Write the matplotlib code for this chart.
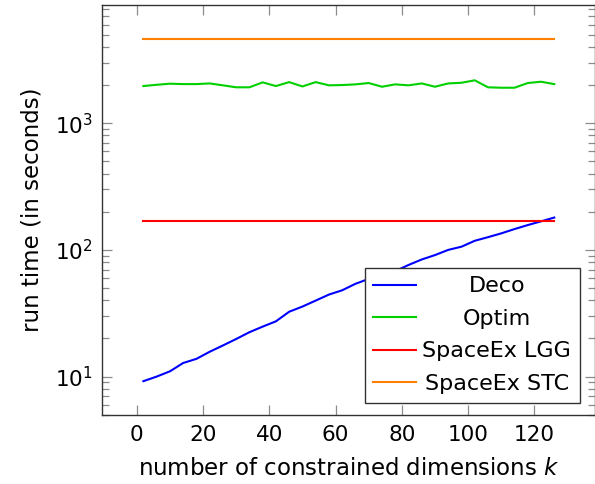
import matplotlib

matplotlib.use("Agg")
import matplotlib.pyplot as plt

plt.rcParams["font.family"] = ["DejaVu Sans"]
plt.rcParams["mathtext.fontset"] = "dejavusans"

# number of constrained dimensions
k = [2, 6, 10, 14, 18, 22, 26, 30, 34, 38, 42, 46, 50, 54, 58, 62,
     66, 70, 74, 78, 82, 86, 90, 94, 98, 102, 106, 110, 114, 118, 122, 126]

# run times in seconds
deco = [9.2, 10.0, 11.0, 12.8, 13.8, 15.7, 17.6, 19.8, 22.4, 24.8, 27.3, 32.5,
        35.7, 39.8, 44.4, 48.0, 54.0, 59.0, 63.0, 68.0, 76.0, 84.0, 91.0, 100.0,
        106.0, 118.0, 126.0, 135.0, 146.0, 157.0, 168.0, 180.0]
optim = [1964, 2010, 2050, 2035, 2035, 2060, 1990, 1920, 1920, 2100, 1964, 2110,
         1950, 2110, 1990, 2000, 2025, 2075, 1940, 2025, 1990, 2060, 1940, 2060,
         2085, 2180, 1920, 1905, 1905, 2075, 2125, 2035]
spaceex_lgg = [168] * len(k)
spaceex_stc = [4600] * len(k)

labels = ["Deco", "Optim", "SpaceEx LGG", "SpaceEx STC"]
colors = ["#0000ff", "#00d000", "#ff0000", "#ff8000"]

fig = plt.figure(figsize=(5.95, 4.84), dpi=100)
ax = fig.add_axes([0.1719, 0.1426, 0.8287, 0.8471])

for ys, lab, col in zip([deco, optim, spaceex_lgg, spaceex_stc], labels, colors):
    ax.plot(k, ys, color=col, lw=1.5, label=lab)

ax.set_yscale("log")
ax.set_xlim(-10.4, 138.4)
ax.set_ylim(10 ** 0.697, 10 ** 3.933)
ax.set_xticks([0, 20, 40, 60, 80, 100, 120])

ax.tick_params(which="both", direction="in", top=True, right=True,
               color="#8c8c8c", labelsize=15.5)
ax.tick_params(which="major", length=7.2, width=0.9, pad=7)
ax.tick_params(which="minor", length=5, width=0.9)
for s in ax.spines.values():
    s.set_color("#333333")
    s.set_linewidth(1.0)

ax.set_xlabel("number of constrained dimensions $k$", fontsize=16.5, labelpad=9)
ax.set_ylabel("run time (in seconds)", fontsize=16.5, labelpad=8)

leg = ax.legend(loc="lower right", bbox_to_anchor=(0.969, 0.030), borderaxespad=0,
                fontsize=16, handlelength=1.9, handletextpad=0.3,
                labelspacing=0.56, borderpad=0.4, fancybox=False,
                edgecolor="#333333", framealpha=1)
leg.get_frame().set_linewidth(1.0)

# pgfplots-style centred legend text
renderer = fig.canvas.get_renderer()
texts = leg.get_texts()
widths = [t.get_window_extent(renderer).width for t in texts]
wmax = max(widths)
for t, w in zip(texts, widths):
    t.set_position(((wmax - w) / 2, 0))

fig.savefig("out.png", dpi=100)
